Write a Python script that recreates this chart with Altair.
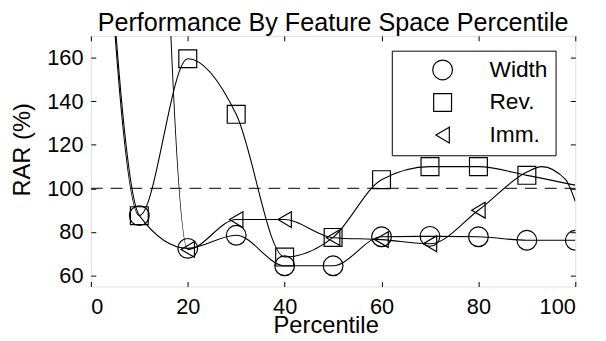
import altair as alt
import pandas as pd

# ---- data ----
series = ["Width", "Rev.", "Imm."]
pct = [0, 10, 20, 30, 40, 50, 60, 70, 80, 90, 100]
width_rar = [353, 87.5, 72.5, 78.5, 64.5, 64.5, 77.8, 78.0, 77.8, 76.2, 76.2]
rev_rar = [353, 87.5, 159.5, 134.0, 68.5, 77.5, 104.0, 110.0, 110.0, 106.0, 101.5]
imm_rar = [None, 680, 72.0, 85.7, 85.7, 77.4, 76.5, 74.6, 90.0, 107.5, 94.0]
imm_extra_pct = [93, 98]
imm_extra_rar = [110.0, 104.0]

width_marked = [10, 20, 30, 40, 50, 60, 70, 80, 90, 100]
rev_marked = [10, 20, 30, 40, 50, 60, 70, 80, 90]
imm_marked = [20, 30, 40, 50, 60, 70, 80]

x_ticks = [0, 20, 40, 60, 80, 100]
y_ticks = [60, 80, 100, 120, 140, 160]
ref_level = [100]

# ---- tables ----
rows = []
for name, vals in [("Width", width_rar), ("Rev.", rev_rar), ("Imm.", imm_rar)]:
    for p, v in zip(pct, vals):
        if v is not None:
            rows.append({"series": name, "pct": p, "rar": v})
for p, v in zip(imm_extra_pct, imm_extra_rar):
    rows.append({"series": "Imm.", "pct": p, "rar": v})
curve = pd.DataFrame(rows).sort_values(["series", "pct"])

mrows = []
for name, vals, marked in [("Width", width_rar, width_marked),
                           ("Rev.", rev_rar, rev_marked),
                           ("Imm.", imm_rar, imm_marked)]:
    for p, v in zip(pct, vals):
        if p in marked and v is not None:
            mrows.append({"series": name, "pct": p, "rar": v})
markers = pd.DataFrame(mrows)

ref = pd.DataFrame({"x0": [0], "x1": [100], "y": ref_level})

FONT = "Liberation Sans"
xs = alt.Scale(domain=[0, 100], nice=False, zero=False)
ys = alt.Scale(domain=[55, 170], nice=False, zero=False)
tri = "M0.85,-1L-0.85,0L0.85,1Z"
shape_scale = alt.Scale(domain=series, range=["circle", "square", tri])
size_scale = alt.Scale(domain=series, range=[400, 256, 441])

legend = alt.Legend(
    title=None, orient="none", legendX=305, legendY=15,
    strokeColor="black", fillColor="white", padding=8,
    labelFont=FONT, labelFontSize=23, labelColor="black",
    symbolStrokeColor="black", symbolFillColor="transparent",
    symbolStrokeWidth=1.2, symbolOffset=32, labelOffset=36, rowPadding=9,
)

tick_axis = dict(offset=-5, tickSize=5, tickColor="black", tickWidth=1,
                 labels=False, domain=False, grid=False, title=None)

lines = alt.Chart(curve).mark_line(
    interpolate="monotone", color="black", strokeWidth=1.1, clip=True
).encode(
    x=alt.X("pct:Q", scale=xs, axis=alt.Axis(
        orient="bottom", values=x_ticks, ticks=False, domain=False, grid=False,
        labelFont=FONT, labelFontSize=22, labelColor="black", labelPadding=10,
        title="Percentile", titleFont=FONT, titleFontSize=24,
        titleFontWeight="normal", titleColor="black",
        titleX=238, titleY=28, titleBaseline="top")),
    y=alt.Y("rar:Q", scale=ys, axis=alt.Axis(
        orient="left", values=y_ticks, ticks=False, domain=False, grid=False,
        labelFont=FONT, labelFontSize=22, labelColor="black", labelPadding=8,
        title="RAR (%)", titleFont=FONT, titleFontSize=24,
        titleFontWeight="normal", titleColor="black",
        titleX=-57, titleY=115, titleAngle=270, titleBaseline="bottom")),
    detail="series:N",
)

points = alt.Chart(markers).mark_point(
    filled=False, color="black", strokeWidth=1.2, opacity=1, clip=True
).encode(
    x=alt.X("pct:Q", scale=xs, axis=alt.Axis(orient="bottom", values=x_ticks, **tick_axis)),
    y=alt.Y("rar:Q", scale=ys, axis=alt.Axis(orient="left", values=y_ticks, **tick_axis)),
    shape=alt.Shape("series:N", scale=shape_scale, legend=legend),
    size=alt.Size("series:N", scale=size_scale, legend=legend),
)

rule = alt.Chart(ref).mark_rule(
    color="#333333", strokeDash=[12, 8], strokeWidth=1.2
).encode(
    x=alt.X("x0:Q", scale=xs, axis=alt.Axis(orient="top", values=x_ticks, **tick_axis)),
    x2="x1:Q",
    y=alt.Y("y:Q", scale=ys, axis=alt.Axis(orient="right", values=y_ticks, **tick_axis)),
)

chart = alt.layer(rule, lines, points).resolve_axis(
    x="independent", y="independent"
).properties(
    width=491, height=254,
    title=alt.TitleParams(
        "Performance By Feature Space Percentile", font=FONT, fontSize=25.5,
        fontWeight="normal", color="black", anchor="middle",
        baseline="alphabetic", offset=6, dy=27, frame="group"),
    autosize=alt.AutoSizeParams(type="none"),
    padding={"left": 84, "top": 26, "right": 23, "bottom": 53},
).configure_view(stroke="black", strokeWidth=1.2).configure(background="white")

chart.save("out.html", embed_options={"renderer": "svg", "actions": False})
